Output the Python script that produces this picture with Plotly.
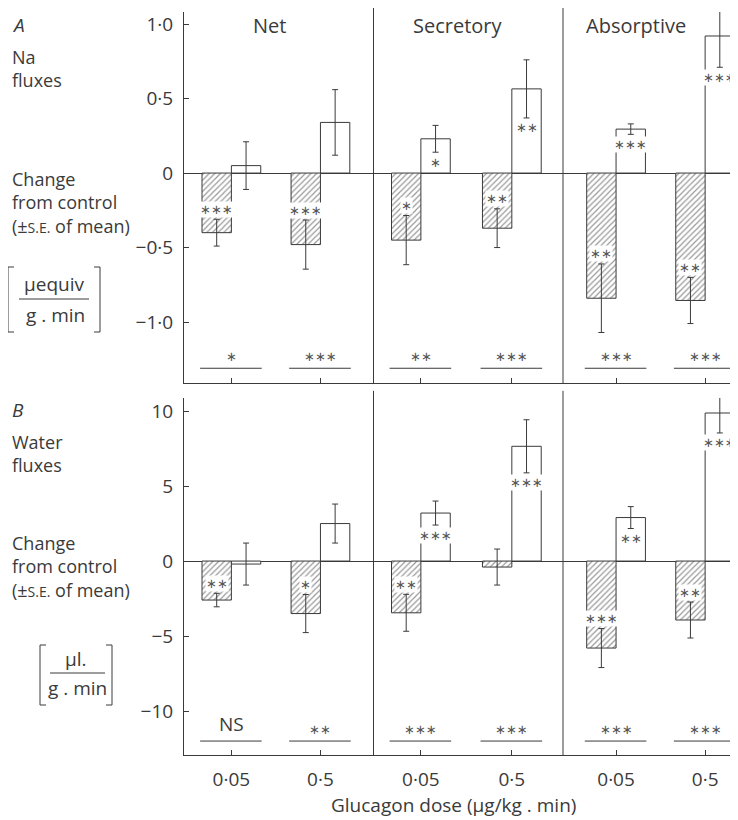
import plotly.graph_objects as go

# page body has an 8px margin; the figure is drawn at (8, 8)
OFF = 8
W, H = 738 - OFF, 820 - OFF

# ---------------- data ----------------
panels = ["Net", "Secretory", "Absorptive"]
doses = ["0·05", "0·5"]
group_x = [0.25, 0.72, 1.25, 1.73, 2.28, 2.75]

# A: Na fluxes (change from control, μequiv/g.min)
na_hatched = [-0.40, -0.48, -0.45, -0.37, -0.84, -0.855]
na_hatched_se = [0.09, 0.165, 0.165, 0.13, 0.23, 0.155]
na_open = [0.05, 0.34, 0.23, 0.565, 0.295, 0.92]
na_open_se = [0.16, 0.22, 0.09, 0.195, 0.035, 0.21]
na_hatched_sig = ["***", "***", "*", "**", "**", "**"]
na_open_sig = ["", "", "*", "**", "***", "***"]
na_diff_sig = ["*", "***", "**", "***", "***", "***"]

# B: Water fluxes (change from control, μl./g.min)
w_hatched = [-2.6, -3.5, -3.45, -0.4, -5.8, -3.93]
w_hatched_se = [0.45, 1.27, 1.23, 1.2, 1.3, 1.2]
w_open = [-0.2, 2.5, 3.2, 7.65, 2.9, 9.87]
w_open_se = [1.4, 1.3, 0.8, 1.77, 0.73, 1.33]
w_hatched_sig = ["**", "*", "**", "", "***", "**"]
w_open_sig = ["", "", "***", "***", "**", "***"]
w_diff_sig = ["NS", "**", "***", "***", "***", "***"]

# ---------------- style ----------------
DARK = "#3a3a3a"
FONT = "Open Sans"
STARFONT = "DejaVu Sans"
x0px, ppu = 184, 189.5
xr = [0, (738 - x0px) / ppu]
bw = 0.155


def px(x):
    return (x - OFF) / W


def py(y):
    return 1 - (y - OFF) / H


fig = go.Figure()


def add_panel(hv, hse, ov, ose, xa, ya):
    fig.add_trace(go.Bar(
        x=group_x, y=hv, width=bw, offset=-bw, xaxis=xa, yaxis=ya,
        marker=dict(color="white", line=dict(color=DARK, width=1),
                    pattern=dict(shape="/", fgcolor="#333333", bgcolor="white",
                                 size=4, solidity=0.3)),
        error_y=dict(type="data", array=hse, color=DARK, thickness=1, width=3),
        showlegend=False, hoverinfo="skip"))
    fig.add_trace(go.Bar(
        x=group_x, y=ov, width=bw, offset=0, xaxis=xa, yaxis=ya,
        marker=dict(color="white", line=dict(color=DARK, width=1)),
        error_y=dict(type="data", array=ose, color=DARK, thickness=1, width=3),
        showlegend=False, hoverinfo="skip"))


add_panel(na_hatched, na_hatched_se, na_open, na_open_se, "x", "y")
add_panel(w_hatched, w_hatched_se, w_open, w_open_se, "x2", "y2")

# significance lines under groups
for xa, ya, level, sigs in [("x", "y", -1.31, na_diff_sig), ("x2", "y2", -12.0, w_diff_sig)]:
    lx, ly = [], []
    for c in group_x:
        lx += [c - 0.165, c + 0.16, None]
        ly += [level, level, None]
    fig.add_trace(go.Scatter(x=lx, y=ly, mode="lines", xaxis=xa, yaxis=ya,
                             line=dict(color=DARK, width=1), showlegend=False,
                             hoverinfo="skip"))
    for c, s in zip(group_x, sigs):
        if s == "NS":
            fig.add_annotation(x=c, y=level, xref=xa, yref=ya, text=s, showarrow=False,
                               yanchor="bottom", yshift=2,
                               font=dict(family=FONT, size=19, color=DARK))
        else:
            fig.add_annotation(x=c, y=level, xref=xa, yref=ya, text=s.replace("*", "∗"),
                               showarrow=False, yanchor="bottom", yshift=2,
                               font=dict(family=STARFONT, size=13, color="#555"))

# stars inside bars
for xa, ya, vals, ses, sigs, dx in [
    ("x", "y", na_hatched, na_hatched_se, na_hatched_sig, -bw / 2),
    ("x", "y", na_open, na_open_se, na_open_sig, bw / 2),
    ("x2", "y2", w_hatched, w_hatched_se, w_hatched_sig, -bw / 2),
    ("x2", "y2", w_open, w_open_se, w_open_sig, bw / 2),
]:
    for c, v, se, s in zip(group_x, vals, ses, sigs):
        if not s:
            continue
        sgn = 1 if v >= 0 else -1
        fig.add_annotation(x=c + dx, y=v - sgn * se, xref=xa, yref=ya,
                           text=s.replace("*", "∗"), showarrow=False,
                           xanchor="center", yanchor="middle",
                           yshift=-sgn * 10, bgcolor="white", borderpad=0,
                           font=dict(family=STARFONT, size=13, color="#555"))

# dividers between panels
for xa, ya in [("x", "y"), ("x2", "y2")]:
    for d in [1, 2]:
        fig.add_shape(type="line", xref=xa, yref=ya + " domain", x0=d, x1=d,
                      y0=0, y1=1.02, line=dict(color=DARK, width=1))


def label(text, x, y, size=19, anchor="left", align="left"):
    fig.add_annotation(x=px(x), y=py(y), xref="paper", yref="paper", text=text,
                       showarrow=False, xanchor=anchor, yanchor="middle", align=align,
                       font=dict(family=FONT, size=size, color=DARK))


# panel titles
for name, cx in zip(panels, [269, 458, 636]):
    label(name, cx, 25, 20, "center")

SE = "(±<span style='font-size:14px'>S.E.</span> of mean)"
CHANGE = "Change<br>from control<br>" + SE

# left-side texts
label("<i>A</i>", 10, 25, 19)
label("Na<br>fluxes", 10, 68, 18)
label(CHANGE, 10, 202, 18)
label("μequiv", 54, 284, 19, "center")
label("g . min", 56, 315, 19, "center")

label("<i>B</i>", 10, 410, 19)
label("Water<br>fluxes", 10, 453, 18)
label(CHANGE, 10, 566, 18)
label("μl.", 76, 659, 19, "center")
label("g . min", 77, 688, 19, "center")

label("Glucagon dose (μg/kg . min)", 453, 805, 19, "center")


def bracket(xl, xr_, yt, yb, fl, fr, fy):
    for xs in [(xl, xl + 6), (xr_, xr_ - 6)]:
        fig.add_shape(type="line", xref="paper", yref="paper", x0=px(xs[0]), x1=px(xs[0]),
                      y0=py(yt), y1=py(yb), line=dict(color=DARK, width=1))
        fig.add_shape(type="line", xref="paper", yref="paper", x0=px(xs[0]), x1=px(xs[1]),
                      y0=py(yt), y1=py(yt), line=dict(color=DARK, width=1))
        fig.add_shape(type="line", xref="paper", yref="paper", x0=px(xs[0]), x1=px(xs[1]),
                      y0=py(yb), y1=py(yb), line=dict(color=DARK, width=1))
    fig.add_shape(type="line", xref="paper", yref="paper", x0=px(fl), x1=px(fr),
                  y0=py(fy), y1=py(fy), line=dict(color=DARK, width=1))


bracket(8, 100, 267, 332, 19, 89, 299)
bracket(40, 112, 645, 705, 50, 105, 673)

axis_common = dict(showgrid=False, showline=True, linecolor=DARK, linewidth=1,
                   ticks="inside", ticklen=5, tickcolor=DARK, tickwidth=1,
                   tickfont=dict(family=FONT, size=19, color=DARK))

fig.update_layout(
    width=W, height=H, margin=dict(l=0, r=0, t=0, b=0),
    paper_bgcolor="white", plot_bgcolor="white",
    barmode="overlay", showlegend=False,
    xaxis=dict(domain=[px(x0px), 1], range=xr, anchor="y", tickvals=group_x,
               showticklabels=False, zeroline=False, **axis_common),
    xaxis2=dict(domain=[px(x0px), 1], range=xr, anchor="y2", tickvals=group_x,
                ticktext=doses * 3, ticklabelstandoff=7, zeroline=False, **axis_common),
    yaxis=dict(domain=[py(383), py(12)], range=[-1.409, 1.081], anchor="x",
               tickvals=[-1, -0.5, 0, 0.5, 1],
               ticktext=["−1·0", "−0·5", "0", "0·5", "1·0"],
               zeroline=True, zerolinecolor=DARK, zerolinewidth=1,
               ticklabelstandoff=6, **axis_common),
    yaxis2=dict(domain=[py(755), py(398)], range=[-12.93, 10.87], anchor="x2",
                tickvals=[-10, -5, 0, 5, 10],
                ticktext=["−10", "−5", "0", "5", "10"],
                zeroline=True, zerolinecolor=DARK, zerolinewidth=1,
                ticklabelstandoff=6, **axis_common),
)

fig.write_html("out.html")
